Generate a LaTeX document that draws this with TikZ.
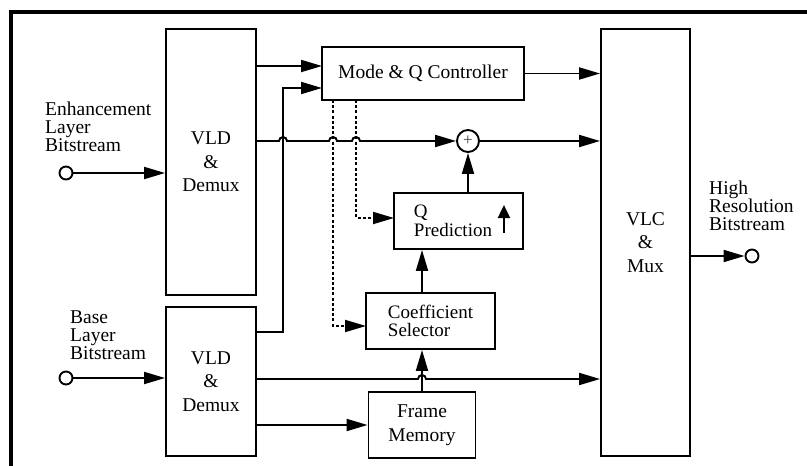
\documentclass[tikz,border=0pt]{standalone}
\usepackage{fontspec}
\setmainfont{Liberation Serif}
\usetikzlibrary{arrows.meta,positioning,calc}

\begin{document}
\begin{tikzpicture}[x=1pt,y=-1pt,line cap=butt,line join=miter,
  font=\rmfamily\fontsize{19.5}{23.5}\selectfont,
  >={Triangle[length=21pt,width=12pt]},
  wire/.style={line width=1.9pt},
  ctrl/.style={line width=1.9pt,dash pattern=on 3pt off 2.2pt},
  blk/.style={draw,line width=1.9pt,inner sep=0pt,align=center},
  tight/.style={align=left,font=\rmfamily\fontsize{19}{18.5}\selectfont},
  port/.style={circle,draw,line width=1.9pt,fill=white,minimum size=13pt,inner sep=0pt},
  lbl/.style={anchor=west,align=left,inner sep=0pt,font=\rmfamily\fontsize{19.5}{18}\selectfont}]
\path[use as bounding box] (0,0) rectangle (807,466);
\draw[line width=3.5pt] (11,466) -- (11,12) -- (807,12);
\node[blk,minimum width=90pt,minimum height=266pt] (vldE) at (211,162) {VLD\\\&\\Demux};
\node[blk,minimum width=90pt,minimum height=149pt] (vldB) at (211,381.5) {VLD\\\&\\Demux};
\node[blk,minimum width=202pt,minimum height=53pt] (mode) at (423,73.5) {Mode \& Q Controller};
\node[blk,tight,minimum width=129pt,minimum height=56pt] (qpred) at (458.5,221) {Q\\Prediction\hspace*{11pt}};
\node[blk,tight,minimum width=129pt,minimum height=56pt] (csel) at (430.5,321) {Coefficient\\Selector};
\node[blk,minimum width=107pt,minimum height=66pt] (fmem) at (422,425) {Frame\\Memory};
\node[blk,minimum width=89pt,minimum height=427pt] (vlc) at (645.5,242.5) {VLC\\\&\\Mux};
\node[circle,draw,line width=1.9pt,minimum size=22pt,inner sep=0pt,font=\rmfamily\fontsize{17}{17}\selectfont,text=black!75] (plus) at (468,141) {+};
\node[port] (inE) at (66,173) {};
\node[port] (inB) at (66,378) {};
\node[port] (outH) at (752,256) {};
\node[lbl] (tE) at (45,127) {Enhancement\\Layer\\Bitstream};
\node[lbl] (tB) at (70,335) {Base\\Layer\\Bitstream};
\node[lbl] (tH) at (709,206) {High\\Resolution\\Bitstream};
\coordinate (m1) at (322,66);
\coordinate (m2) at (322,88);
\coordinate (b1) at (283,332);
\coordinate (h1) at (283,141);
\coordinate (d1) at (333,100);
\coordinate (d2) at (356,100);
\coordinate (h2) at (333,141);
\coordinate (h3) at (356,141);
\coordinate (h4) at (422,379);
\coordinate (cs) at (366,326);
\coordinate (qp) at (394,218);
\draw[wire,->] (inE) -- (inE -| vldE.west);
\draw[wire,->] (inB) -- (inB -| vldB.west);
\draw[wire,->] (m1 -| vldE.east) -- (m1);
\draw[wire,->] (b1 -| vldB.east) -- (b1) -- (m2 -| b1) -- (m2);
\draw[wire,->] (vldE.east |- plus) -- ([xshift=-4pt]h1) arc[start angle=180,end angle=0,radius=4pt]
  -- ([xshift=-4pt]h2) arc[start angle=180,end angle=0,radius=4pt]
  -- ([xshift=-4pt]h3) arc[start angle=180,end angle=0,radius=4pt] -- (plus);
\draw[wire,->] (plus) -- (plus -| vlc.west);
\draw[wire,->] (mode) -- (mode -| vlc.west);
\draw[ctrl,->] (d1) -- (d1 |- cs) -- (cs);
\draw[ctrl,->] (d2) -- (d2 |- qp) -- (qp);
\draw[wire,->] (plus |- qpred.north) -- (plus.south);
\draw[wire,->] (fmem.north |- csel.north) -- (fmem.north |- qpred.south);
\draw[wire,->] (fmem.north) -- (fmem.north |- csel.south);
\draw[wire,->] (fmem.west -| vldB.east) -- (fmem.west);
\draw[wire,->] (h4 -| vldB.east) -- ([xshift=-4pt]h4) arc[start angle=180,end angle=0,radius=4pt] -- (h4 -| vlc.west);
\draw[wire,-{Triangle[length=13pt,width=12pt]}] ($(qpred.east)+(-20,12)$) -- ($(qpred.east)+(-20,-16)$);
\draw[wire,->] (vlc.east |- outH) -- (outH);
\end{tikzpicture}
\end{document}
